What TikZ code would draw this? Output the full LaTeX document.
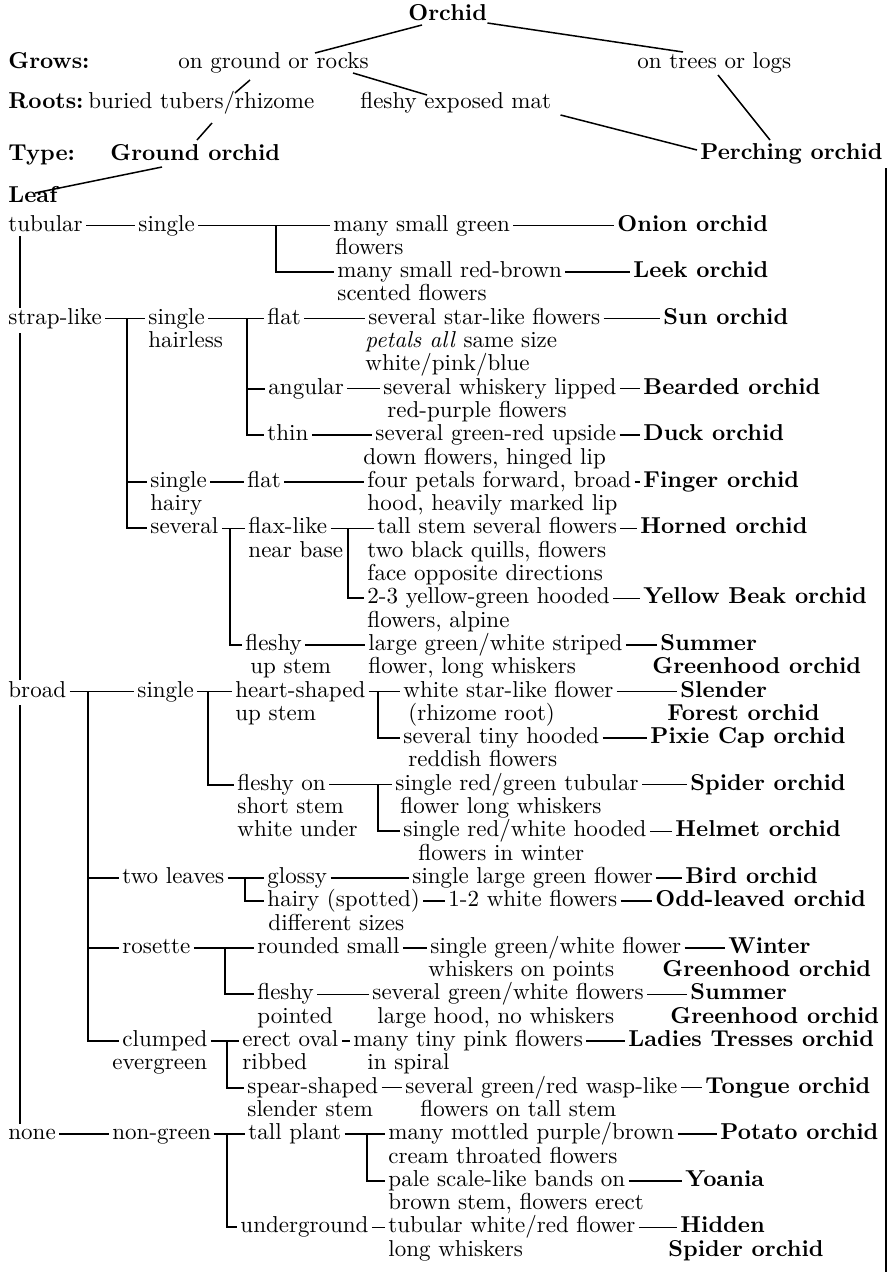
\documentclass[tikz,border=0pt]{standalone}
\tikzset{
 lbl/.style={inner sep=0pt, anchor=base west, scale=2.3},
 bld/.style={lbl, font=\bfseries},
 ln/.style={line width=1.5pt},
 vl/.style={line width=1.9pt},
}
\newcommand\Tx[5][lbl]{\node[#1] (#2) at (#3,{231+(#4-1)*23.3}) {#5};}
\newcommand\hc[2]{\draw[ln] ([shift={(3pt,5.5pt)}]#1.base east) -- ([shift={(-3pt,5.5pt)}]#2.base west);}
\newcommand\bk[4]{\coordinate (#1) at (#2,{231+(#3-1)*23.3-5.5});
 \draw[vl] (#1) |- ([shift={(-3pt,5.5pt)}]#4.base west);}
\begin{document}
\begin{tikzpicture}[x=1pt,y=-1pt]
\useasboundingbox[fill=white] (0,0) rectangle (895,1275);
% top section
\node[bld] (orchid) at (408,20) {Orchid};
\node[bld] (grows) at (8,68) {Grows:};
\node[lbl] (ground) at (178,68) {on ground or rocks};
\node[lbl] (trees) at (637,68) {on trees or logs};
\node[bld] (roots) at (8,108) {Roots:};
\node[lbl] (buried) at (88,108) {buried tubers/rhizome};
\node[lbl] (mat) at (360,108) {fleshy exposed mat};
\node[bld] (typel) at (8,160) {Type:};
\node[bld] (groundo) at (110,160) {Ground orchid};
\node[bld] (perch) at (700,159) {Perching orchid};
\node[bld] (leaf) at (8,202) {Leaf};
\draw[ln] ([shift={(14pt,-5pt)}]orchid.base west) -- ([shift={(137pt,15pt)}]ground.base west);
\draw[ln] ([shift={(0pt,-3pt)}]orchid.base east) -- ([shift={(46pt,16pt)}]trees.base west);
\draw[ln] ([shift={(72pt,-12pt)}]ground.base west) -- ([shift={(147pt,15pt)}]buried.base west);
\draw[ln] ([shift={(175pt,-5pt)}]ground.base west) -- ([shift={(67pt,13pt)}]mat.base west);
\draw[ln] ([shift={(81pt,-7pt)}]trees.base west) -- ([shift={(70pt,19pt)}]perch.base west);
\draw[ln] ([shift={(9pt,-7pt)}]mat.base east) -- ([shift={(-3pt,9pt)}]perch.base west);
\draw[ln] ([shift={(124pt,-15pt)}]buried.base west) -- ([shift={(87pt,20pt)}]groundo.base west);
\draw[ln] ([shift={(52pt,-7pt)}]groundo.base west) -- ([shift={(27pt,9pt)}]leaf.base west);
\draw[vl] ([shift={(3pt,-9pt)}]perch.base east) -- ++(0,1104);
% rows
\Tx{tubular}{8}{1}{tubular}
\Tx{sgl1}{138}{1}{single}
\Tx{msg}{333}{1}{many small green}
\Tx[bld]{onion}{617}{1}{Onion orchid}
\Tx{fl1}{335}{2}{flowers}
\Tx{msrb}{337}{3}{many small red-brown}
\Tx[bld]{leek}{633}{3}{Leek orchid}
\Tx{scf}{337}{4}{scented flowers}
\Tx{strap}{8}{5}{strap-like}
\Tx{sgl2}{148}{5}{single}
\Tx{flat1}{267}{5}{flat}
\Tx{sslf}{368}{5}{several star-like flowers}
\Tx[bld]{sun}{663}{5}{Sun orchid}
\Tx{hairless}{148}{6}{hairless}
\Tx{petals}{365}{6}{\textit{petals all} same size}
\Tx{wpb}{365}{7}{white/pink/blue}
\Tx{angular}{268}{8}{angular}
\Tx{swl}{383}{8}{several whiskery lipped}
\Tx[bld]{bearded}{643}{8}{Bearded orchid}
\Tx{rpf}{387}{9}{red-purple flowers}
\Tx{thin}{267}{10}{thin}
\Tx{sgru}{375}{10}{several green-red upside}
\Tx[bld]{duck}{643}{10}{Duck orchid}
\Tx{dfhl}{363}{11}{down flowers, hinged lip}
\Tx{sgl3}{150}{12}{single}
\Tx{flat2}{247}{12}{flat}
\Tx{fpfb}{367}{12}{four petals forward, broad}
\Tx[bld]{finger}{643}{12}{Finger orchid}
\Tx{hairy}{150}{13}{hairy}
\Tx{hhml}{367}{13}{hood, heavily marked lip}
\Tx{several1}{150}{14}{several}
\Tx{flax}{248}{14}{flax-like}
\Tx{tssf}{377}{14}{tall stem several flowers}
\Tx[bld]{horned}{640}{14}{Horned orchid}
\Tx{nearbase}{248}{15}{near base}
\Tx{tbqf}{367}{15}{two black quills, flowers}
\Tx{fod}{367}{16}{face opposite directions}
\Tx{yg}{367}{17}{2-3 yellow-green hooded}
\Tx[bld]{yellow}{643}{17}{Yellow Beak orchid}
\Tx{fa}{367}{18}{flowers, alpine}
\Tx{fleshy1}{245}{19}{fleshy}
\Tx{lgws}{368}{19}{large green/white striped}
\Tx[bld]{summer1}{660}{19}{Summer}
\Tx{upstem1}{250}{20}{up stem}
\Tx{flw}{368}{20}{flower, long whiskers}
\Tx[bld]{gh1}{652}{20}{Greenhood orchid}
\Tx{broad}{8}{21}{broad}
\Tx{sgl4}{137}{21}{single}
\Tx{heart}{235}{21}{heart-shaped}
\Tx{wslf}{403}{21}{white star-like flower}
\Tx[bld]{slender}{680}{21}{Slender}
\Tx{upstem2}{235}{22}{up stem}
\Tx{rhiz}{408}{22}{(rhizome root)}
\Tx[bld]{forest}{667}{22}{Forest orchid}
\Tx{sth}{403}{23}{several tiny hooded}
\Tx[bld]{pixie}{650}{23}{Pixie Cap orchid}
\Tx{redf}{408}{24}{reddish flowers}
\Tx{fon}{237}{25}{fleshy on}
\Tx{srgt}{395}{25}{single red/green tubular}
\Tx[bld]{spider1}{690}{25}{Spider orchid}
\Tx{shortstem}{237}{26}{short stem}
\Tx{flw2}{400}{26}{flower long whiskers}
\Tx{whiteunder}{237}{27}{white under}
\Tx{srwh}{403}{27}{single red/white hooded}
\Tx[bld]{helmet}{675}{27}{Helmet orchid}
\Tx{fiw}{418}{28}{flowers in winter}
\Tx{twol}{122}{29}{two leaves}
\Tx{glossy}{267}{29}{glossy}
\Tx{slgf}{412}{29}{single large green flower}
\Tx[bld]{bird}{685}{29}{Bird orchid}
\Tx{hairysp}{267}{30}{hairy (spotted)}
\Tx{wf12}{448}{30}{1-2 white flowers}
\Tx[bld]{odd}{655}{30}{Odd-leaved orchid}
\Tx{diffs}{268}{31}{different sizes}
\Tx{rosette}{122}{32}{rosette}
\Tx{rsmall}{257}{32}{rounded small}
\Tx{sgwf}{430}{32}{single green/white flower}
\Tx[bld]{winter}{728}{32}{Winter}
\Tx{wop}{428}{33}{whiskers on points}
\Tx[bld]{gh2}{662}{33}{Greenhood orchid}
\Tx{fleshy2}{257}{34}{fleshy}
\Tx{sgwfs}{372}{34}{several green/white flowers}
\Tx[bld]{summer2}{690}{34}{Summer}
\Tx{pointed}{257}{35}{pointed}
\Tx{lhnw}{377}{35}{large hood, no whiskers}
\Tx[bld]{gh3}{670}{35}{Greenhood orchid}
\Tx{clumped}{122}{36}{clumped}
\Tx{erect}{242}{36}{erect oval}
\Tx{mtpf}{353}{36}{many tiny pink flowers}
\Tx[bld]{ladies}{628}{36}{Ladies Tresses orchid}
\Tx{evergreen}{112}{37}{evergreen}
\Tx{ribbed}{242}{37}{ribbed}
\Tx{spiral}{367}{37}{in spiral}
\Tx{spear}{247}{38}{spear-shaped}
\Tx{sgrw}{405}{38}{several green/red wasp-like}
\Tx[bld]{tongue}{705}{38}{Tongue orchid}
\Tx{slstem}{247}{39}{slender stem}
\Tx{fots}{420}{39}{flowers on tall stem}
\Tx{none}{8}{40}{none}
\Tx{nongreen}{112}{40}{non-green}
\Tx{tall}{248}{40}{tall plant}
\Tx{mmpb}{388}{40}{many mottled purple/brown}
\Tx[bld]{potato}{720}{40}{Potato orchid}
\Tx{ctf}{388}{41}{cream throated flowers}
\Tx{pslb}{388}{42}{pale scale-like bands on}
\Tx[bld]{yoania}{685}{42}{Yoania}
\Tx{bsfe}{388}{43}{brown stem, flowers erect}
\Tx{underground}{240}{44}{underground}
\Tx{twrf}{388}{44}{tubular white/red flower}
\Tx[bld]{hidden}{680}{44}{Hidden}
\Tx{lw}{388}{45}{long whiskers}
\Tx[bld]{spider2}{668}{45}{Spider orchid}
% main vertical
\draw[vl] ([shift={(12pt,-5pt)}]tubular.base west) -- ([shift={(12pt,16pt)}]strap.base west);
\draw[vl] ([shift={(12pt,-9pt)}]strap.base west) -- ([shift={(12pt,17pt)}]broad.base west);
\draw[vl] ([shift={(12pt,-8pt)}]broad.base west) -- ([shift={(12pt,16pt)}]none.base west);
% connectors
\hc{tubular}{sgl1}\hc{sgl1}{msg}\hc{msg}{onion}
\bk{j1}{276}{1}{msrb}\hc{msrb}{leek}
\hc{strap}{sgl2}\bk{j2}{127}{5}{sgl3}\bk{j2b}{127}{5}{several1}
\hc{sgl2}{flat1}\bk{j3}{247}{5}{angular}\bk{j3b}{247}{5}{thin}
\hc{flat1}{sslf}\hc{sslf}{sun}
\hc{angular}{swl}\hc{swl}{bearded}
\hc{thin}{sgru}\hc{sgru}{duck}
\hc{sgl3}{flat2}\hc{flat2}{fpfb}\hc{fpfb}{finger}
\hc{several1}{flax}\bk{j4}{230}{14}{fleshy1}
\hc{flax}{tssf}\bk{j5}{348}{14}{yg}
\hc{tssf}{horned}\hc{yg}{yellow}
\hc{fleshy1}{lgws}\hc{lgws}{summer1}
\hc{broad}{sgl4}\bk{j6}{88}{21}{twol}\bk{j6b}{88}{21}{rosette}\bk{j6c}{88}{21}{clumped}
\hc{sgl4}{heart}\bk{j7}{208}{21}{fon}
\hc{heart}{wslf}\bk{j8}{378}{21}{sth}
\hc{wslf}{slender}\hc{sth}{pixie}
\hc{fon}{srgt}\bk{j9}{378}{25}{srwh}
\hc{srgt}{spider1}\hc{srwh}{helmet}
\hc{twol}{glossy}\bk{j10}{245}{29}{hairysp}
\hc{glossy}{slgf}\hc{slgf}{bird}
\hc{hairysp}{wf12}\hc{wf12}{odd}
\hc{rosette}{rsmall}\bk{j11}{225}{32}{fleshy2}
\hc{rsmall}{sgwf}\hc{sgwf}{winter}
\hc{fleshy2}{sgwfs}\hc{sgwfs}{summer2}
\hc{clumped}{erect}\bk{j12}{227}{36}{spear}
\hc{erect}{mtpf}\hc{mtpf}{ladies}
\hc{spear}{sgrw}\hc{sgrw}{tongue}
\hc{none}{nongreen}\hc{nongreen}{tall}\bk{j13}{227}{40}{underground}
\hc{tall}{mmpb}\bk{j14}{367}{40}{pslb}
\hc{mmpb}{potato}\hc{pslb}{yoania}
\hc{underground}{twrf}\hc{twrf}{hidden}
\end{tikzpicture}
\end{document}
